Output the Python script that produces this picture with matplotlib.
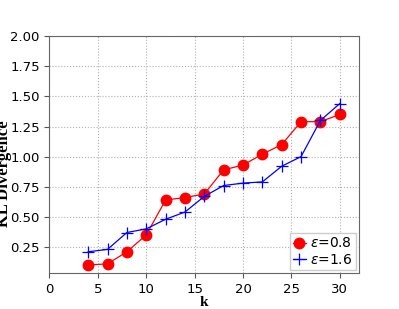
import matplotlib
matplotlib.use("Agg")
import matplotlib.pyplot as plt

# data
k = [4, 6, 8, 10, 12, 14, 16, 18, 20, 22, 24, 26, 28, 30]
kl_eps08 = [0.10, 0.11, 0.21, 0.35, 0.64, 0.66, 0.69, 0.89, 0.93, 1.02, 1.10, 1.29, 1.29, 1.35]
kl_eps16 = [0.21, 0.23, 0.37, 0.40, 0.48, 0.54, 0.67, 0.76, 0.78, 0.79, 0.92, 1.00, 1.30, 1.44]

fig = plt.figure(figsize=(3.99, 3.09), dpi=100)
ax = fig.add_axes([0.124, 0.115, 0.776, 0.768])

ax.plot(k, kl_eps08, color='red', marker='o', markersize=7.5, linewidth=0.9, label=r'$\epsilon$=0.8')
ax.plot(k, kl_eps16, color='blue', marker='+', markersize=9, markeredgewidth=0.9,
        linewidth=0.9, label=r'$\epsilon$=1.6')

ax.set_xlim(0, 32)
ax.set_ylim(0.03, 2.0)
ax.set_xticks([0, 5, 10, 15, 20, 25, 30])
ax.set_yticks([0.25, 0.50, 0.75, 1.00, 1.25, 1.50, 1.75, 2.00])
ax.tick_params(labelsize=9.5, color='#555555')
ax.grid(True, linestyle=':', color='#b0b0b0', linewidth=0.8)
for s in ax.spines.values():
    s.set_color('#666666')

ax.set_xlabel('k', fontfamily='Liberation Serif', fontweight='bold', fontsize=11)
ax.xaxis.set_label_coords(0.5, -0.095)
ax.set_ylabel('KL Divergence', fontfamily='Liberation Serif', fontweight='bold', fontsize=12)
ax.yaxis.set_label_coords(-0.122, 0.42)

ax.legend(loc='lower right', fontsize=10, handlelength=0.9, handletextpad=0.3,
          borderpad=0.25, labelspacing=0.15, borderaxespad=0.25, fancybox=False,
          edgecolor='#cccccc', framealpha=1)

fig.savefig('out.png', dpi=100)
